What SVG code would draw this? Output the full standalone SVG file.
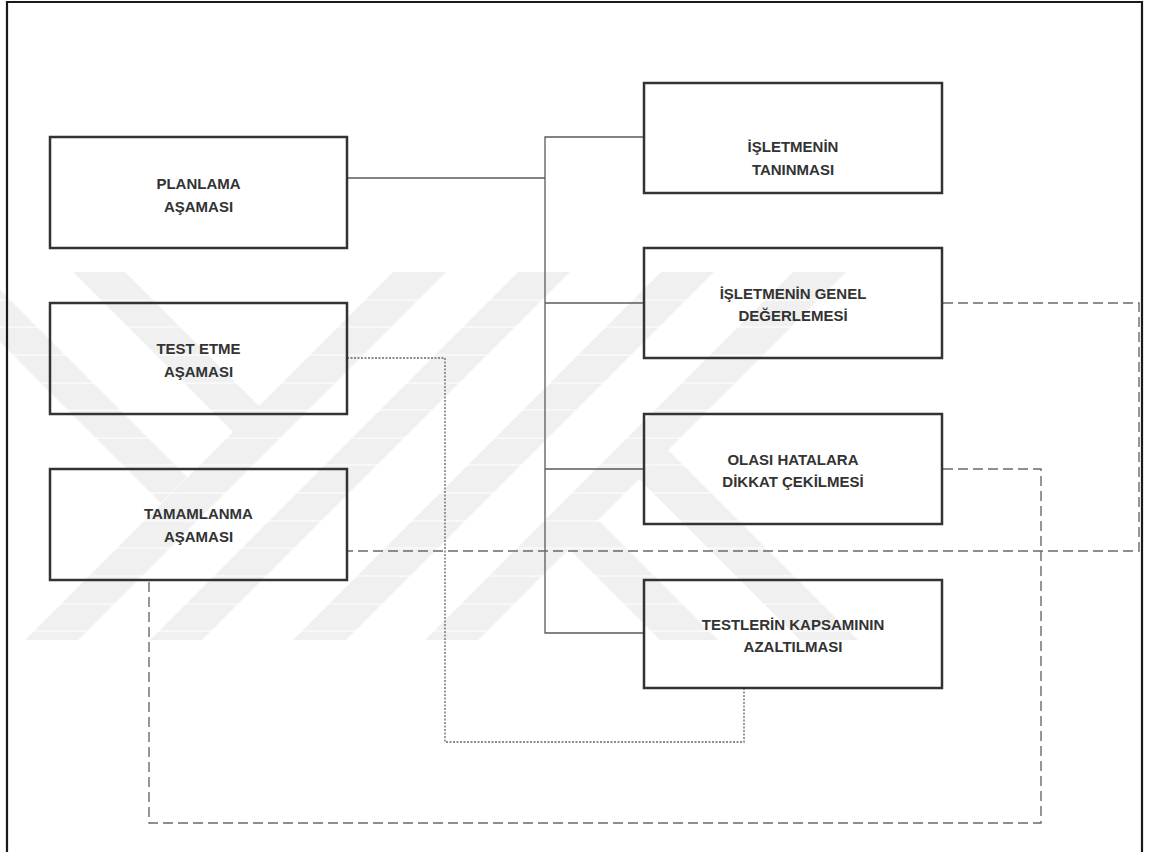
<svg xmlns="http://www.w3.org/2000/svg" width="1152" height="852" viewBox="0 0 1152 852">
  <style>
    .wm { fill: #f0f0f0; }
    .wl { stroke: #ffffff; stroke-width: 1; }
    .box { fill: none; stroke: #333333; stroke-width: 2.5; }
    .lbl { font-family: "Liberation Sans", Arial, sans-serif; font-weight: bold; font-size: 15px; fill: #333333; text-anchor: middle; }
    .solid { fill: none; stroke: #5a5a5a; stroke-width: 1.3; }
    .dash { fill: none; stroke: #6a6a6a; stroke-width: 1.4; stroke-dasharray: 10 5; }
    .dot { fill: none; stroke: #666666; stroke-width: 1.3; stroke-dasharray: 2 1.5; }
  </style>
  <rect x="0" y="0" width="1152" height="852" fill="#ffffff"/>

  <g id="watermark">
    <polygon class="wm" points="73,272 125,272 259,406 393,272 446,272 78,640 25,640 233,432"/>
    <polygon class="wm" points="0,290 187,477 161,503 0,342"/>
    <polygon class="wm" points="518,272 570,272 202,640 150,640"/>
    <polygon class="wm" points="661,272 714,272 346,640 293,640"/>
    <polygon class="wm" points="793,272 846,272 478,640 425,640"/>
    <polygon class="wm" points="668,450 858,640 800,640 639,479"/>
    <polygon class="wm" points="598,520 718,640 660,640 569,549"/>
    <g class="wl">
      <line x1="0" y1="300" x2="1000" y2="300"/>
      <line x1="0" y1="327" x2="1000" y2="327"/>
      <line x1="0" y1="355" x2="1000" y2="355"/>
      <line x1="0" y1="383" x2="1000" y2="383"/>
      <line x1="0" y1="410" x2="1000" y2="410"/>
      <line x1="0" y1="438" x2="1000" y2="438"/>
      <line x1="0" y1="465" x2="1000" y2="465"/>
      <line x1="0" y1="493" x2="1000" y2="493"/>
      <line x1="0" y1="521" x2="1000" y2="521"/>
      <line x1="0" y1="548" x2="1000" y2="548"/>
      <line x1="0" y1="576" x2="1000" y2="576"/>
      <line x1="0" y1="604" x2="1000" y2="604"/>
      <line x1="0" y1="631" x2="1000" y2="631"/>
    </g>
  </g>

  <path id="frame" d="M7,860 L7,2 L1142,2 L1142,860" fill="none" stroke="#1a1a1a" stroke-width="2.2"/>

  <g id="connectors">
    <path class="solid" d="M347,178 H545"/>
    <path class="solid" d="M644,137 H545 V633 H644"/>
    <path class="solid" d="M545,303 H644"/>
    <path class="solid" d="M545,469 H644"/>
    <path class="dash" d="M943,303 H1139 V551 H347"/>
    <path class="dash" d="M943,469 H1041 V823 H149 V580"/>
    <path class="dot" d="M347,358 H445 V742 H744 V688"/>
  </g>

  <g id="planlama">
    <rect class="box" x="50" y="137" width="297" height="111"/>
    <text class="lbl" x="198.5" y="189">PLANLAMA</text>
    <text class="lbl" x="198.5" y="212">AŞAMASI</text>
  </g>
  <g id="test-etme">
    <rect class="box" x="50" y="303" width="297" height="111"/>
    <text class="lbl" x="198.5" y="354">TEST ETME</text>
    <text class="lbl" x="198.5" y="377">AŞAMASI</text>
  </g>
  <g id="tamamlanma">
    <rect class="box" x="50" y="469" width="297" height="111"/>
    <text class="lbl" x="198.5" y="519">TAMAMLANMA</text>
    <text class="lbl" x="198.5" y="542">AŞAMASI</text>
  </g>
  <g id="taninmasi">
    <rect class="box" x="644" y="83" width="298" height="110"/>
    <text class="lbl" x="793" y="152">İŞLETMENİN</text>
    <text class="lbl" x="793" y="175">TANINMASI</text>
  </g>
  <g id="genel">
    <rect class="box" x="644" y="248" width="298" height="110"/>
    <text class="lbl" x="793" y="299">İŞLETMENİN GENEL</text>
    <text class="lbl" x="793" y="321">DEĞERLEMESİ</text>
  </g>
  <g id="olasi">
    <rect class="box" x="644" y="414" width="298" height="110"/>
    <text class="lbl" x="793" y="465">OLASI HATALARA</text>
    <text class="lbl" x="793" y="487">DİKKAT ÇEKİLMESİ</text>
  </g>
  <g id="testlerin">
    <rect class="box" x="644" y="580" width="298" height="108"/>
    <text class="lbl" x="793" y="630">TESTLERİN KAPSAMININ</text>
    <text class="lbl" x="793" y="652">AZALTILMASI</text>
  </g>
</svg>
